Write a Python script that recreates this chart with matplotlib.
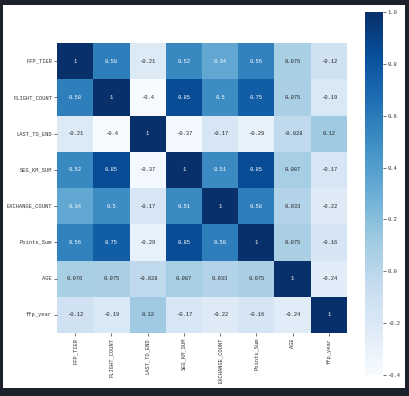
import matplotlib
matplotlib.use('Agg')
import matplotlib.pyplot as plt
import numpy as np
import seaborn as sns

plt.rcParams['font.family'] = ['Liberation Mono', 'DejaVu Sans Mono']
plt.rcParams['axes.unicode_minus'] = False

labels = ['FFP_TIER', 'FLIGHT_COUNT', 'LAST_TO_END', 'SEG_KM_SUM',
          'EXCHANGE_COUNT', 'Points_Sum', 'AGE', 'ffp_year']

# Correlation rows.
row_ffp_tier = [1, 0.58, -0.21, 0.52, 0.34, 0.56, 0.076, -0.12]
row_flight_count = [0.58, 1, -0.4, 0.85, 0.5, 0.75, 0.075, -0.19]
row_last_to_end = [-0.21, -0.4, 1, -0.37, -0.17, -0.29, -0.028, 0.12]
row_seg_km_sum = [0.52, 0.85, -0.37, 1, 0.51, 0.85, 0.087, -0.17]
row_exchange_count = [0.34, 0.5, -0.17, 0.51, 1, 0.58, 0.033, -0.22]
row_points_sum = [0.56, 0.75, -0.29, 0.85, 0.58, 1, 0.075, -0.16]
row_age = [0.076, 0.075, -0.028, 0.087, 0.033, 0.075, 1, -0.24]
row_ffp_year = [-0.12, -0.19, 0.12, -0.17, -0.22, -0.16, -0.24, 1]

corr = np.array([row_ffp_tier, row_flight_count, row_last_to_end, row_seg_km_sum,
                 row_exchange_count, row_points_sum, row_age, row_ffp_year])

W, H = 410, 396
fig = plt.figure(figsize=(W / 100, H / 100), dpi=100, facecolor='#1b222c')
# White canvas inside the dark screenshot frame.
fig.patches.append(plt.Rectangle((3 / W, 8 / H), 402 / W, 383 / H,
                                 transform=fig.transFigure, facecolor='white',
                                 edgecolor='none', zorder=-10))

ax = fig.add_axes([57 / W, 63 / H, 290 / W, 290 / H])
cax = fig.add_axes([365 / W, 21 / H, 18 / W, 363 / H])

sns.heatmap(corr, ax=ax, cbar_ax=cax, cmap='Blues', annot=True, fmt='.2g',
            annot_kws={'fontsize': 4}, xticklabels=labels, yticklabels=labels)

ax.tick_params(axis='both', labelsize=3.9, length=2, width=0.6, pad=1.5,
               color='#555555', labelcolor='#333333')
plt.setp(ax.get_xticklabels(), rotation=90)
plt.setp(ax.get_yticklabels(), rotation=0)
cax.tick_params(labelsize=4, length=2, width=0.6, pad=1,
                color='#555555', labelcolor='#333333')

fig.savefig('out.png', dpi=100, facecolor=fig.get_facecolor())
